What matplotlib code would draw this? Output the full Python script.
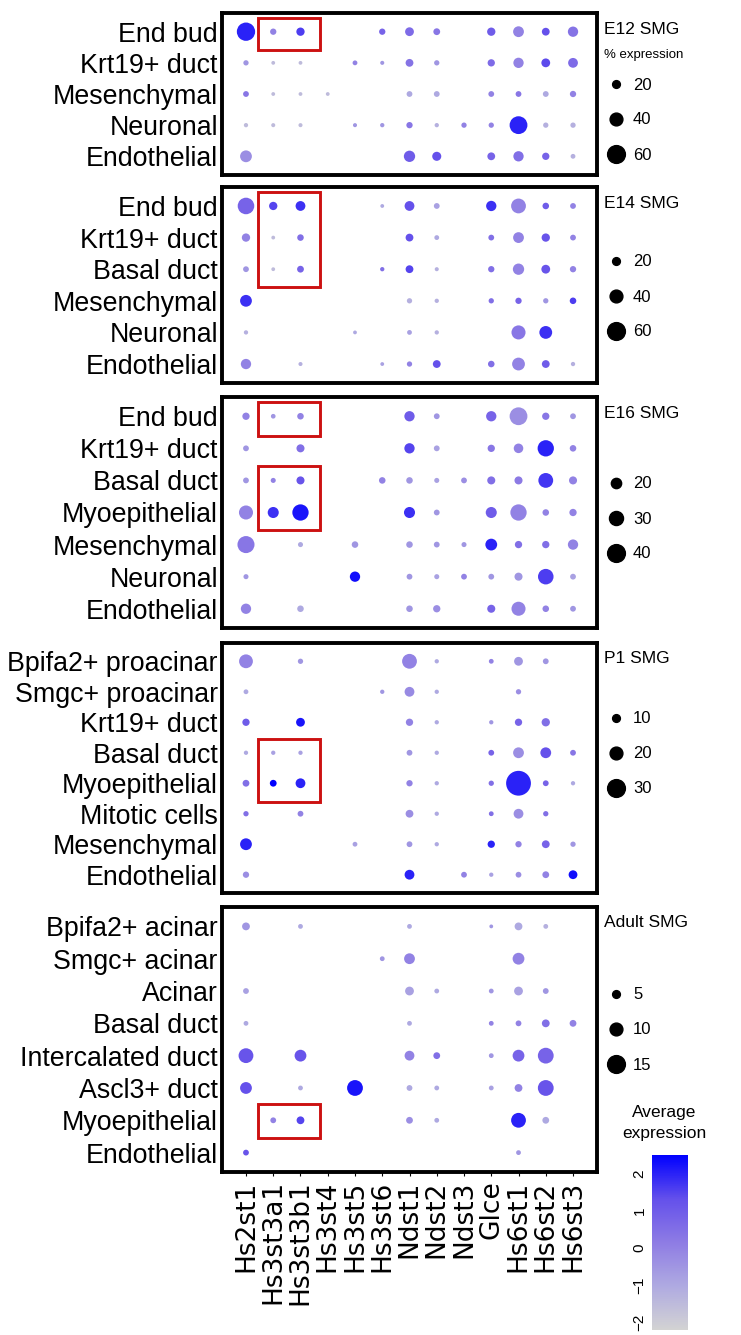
import matplotlib.pyplot as plt
import numpy as np
from matplotlib.colors import LinearSegmentedColormap, Normalize
from matplotlib.cm import ScalarMappable
from matplotlib.lines import Line2D
from matplotlib.patches import Rectangle

plt.rcParams['font.family'] = ['Liberation Sans', 'DejaVu Sans']

genes = ['Hs2st1', 'Hs3st3a1', 'Hs3st3b1', 'Hs3st4', 'Hs3st5', 'Hs3st6',
         'Ndst1', 'Ndst2', 'Ndst3', 'Glce', 'Hs6st1', 'Hs6st2', 'Hs6st3']

# E12 SMG
e12_cells = ['End bud', 'Krt19+ duct', 'Mesenchymal', 'Neuronal', 'Endothelial']
e12_pct = [
    [62, 14, 22, 0, 0, 14, 24, 16, 0, 22, 32, 20, 30],
    [10, 4, 4, 0, 8, 5, 20, 10, 0, 18, 30, 24, 28],
    [12, 4, 4, 4, 0, 0, 12, 12, 0, 12, 12, 12, 14],
    [6, 5, 5, 0, 5, 6, 14, 6, 10, 10, 60, 10, 10],
    [36, 0, 0, 0, 0, 0, 34, 25, 0, 20, 30, 18, 8],
]
e12_avg = [
    [2.0, 0.0, 1.6, 0, 0, 0.8, 0.6, 0.3, 0, 1.0, 0.0, 1.3, 0.4],
    [-0.5, -1.5, -1.5, 0, 0.0, -0.5, 0.4, -0.5, 0, 0.6, 0.0, 1.4, 0.6],
    [0.3, -1.5, -1.5, -1.5, 0, 0, -1.0, -1.0, 0, 0.0, 0.3, -1.0, 0.0],
    [-1.5, -1.5, -1.5, 0, -0.5, -0.5, 0.3, -1.2, 0.0, 0.0, 2.0, -1.2, -1.2],
    [-0.3, 0, 0, 0, 0, 0, 1.0, 1.3, 0, 0.8, 0.5, 0.8, -1.2],
]

# E14 SMG
e14_cells = ['End bud', 'Krt19+ duct', 'Basal duct', 'Mesenchymal', 'Neuronal', 'Endothelial']
e14_pct = [
    [55, 22, 28, 0, 0, 4, 28, 12, 0, 30, 48, 15, 12],
    [22, 4, 15, 0, 0, 0, 20, 8, 0, 12, 32, 22, 12],
    [12, 4, 16, 0, 0, 6, 20, 5, 0, 14, 34, 24, 14],
    [36, 0, 0, 0, 0, 0, 10, 6, 0, 10, 14, 10, 15],
    [6, 0, 0, 0, 4, 0, 8, 6, 0, 0, 45, 40, 0],
    [30, 0, 5, 0, 0, 4, 10, 20, 0, 15, 40, 20, 6],
]
e14_avg = [
    [0.8, 1.5, 1.8, 0, 0, -1.0, 1.3, -0.8, 0, 1.8, 0.0, 1.0, 0.0],
    [0.0, -1.5, 0.5, 0, 0, 0, 1.3, -1.0, 0, 0.5, 0.0, 1.2, 0.0],
    [-0.5, -1.5, 0.8, 0, 0, 0.5, 1.5, -1.2, 0, 0.5, 0.0, 1.2, 0.0],
    [1.8, 0, 0, 0, 0, 0, -1.2, -1.2, 0, 0.5, 0.8, -0.5, 1.6],
    [-1.2, 0, 0, 0, -1.0, 0, -0.8, -1.2, 0, 0, 0.3, 1.8, 0],
    [0.0, 0, -1.2, 0, 0, -0.8, 0.0, 1.3, 0, 0.5, 0.0, 1.0, -1.2],
]

# E16 SMG
e16_cells = ['End bud', 'Krt19+ duct', 'Basal duct', 'Myoepithelial', 'Mesenchymal',
             'Neuronal', 'Endothelial']
e16_pct = [
    [12, 5, 10, 0, 0, 0, 20, 8, 0, 20, 40, 12, 8],
    [8, 0, 14, 0, 0, 0, 20, 8, 0, 12, 18, 36, 10],
    [8, 6, 14, 0, 0, 10, 10, 6, 8, 14, 14, 32, 14],
    [30, 22, 36, 0, 0, 0, 22, 8, 0, 22, 36, 10, 12],
    [38, 0, 6, 0, 10, 0, 10, 8, 6, 24, 12, 12, 20],
    [6, 0, 0, 0, 20, 0, 8, 6, 8, 8, 14, 34, 8],
    [20, 0, 10, 0, 0, 0, 10, 12, 0, 14, 30, 10, 8],
]
e16_avg = [
    [0.0, -0.5, 0.0, 0, 0, 0, 1.0, -0.5, 0, 0.8, -0.3, 0.3, -0.5],
    [-0.5, 0, 0.5, 0, 0, 0, 1.5, -0.8, 0, 0.3, 0.0, 2.0, 0.0],
    [-0.5, 0.0, 1.2, 0, 0, 0.0, -0.5, -0.8, -0.3, 0.5, 0.2, 1.7, 0.0],
    [0.0, 1.8, 2.2, 0, 0, 0, 1.8, -0.5, 0, 1.0, 0.0, 0.0, 0.0],
    [0.3, 0, -1.0, 0, -0.5, 0, -0.5, -0.5, -0.5, 2.0, 0.5, 0.5, 0.0],
    [-0.5, 0, 0, 0, 2.3, 0, -0.5, -0.8, 0.0, -0.5, -0.5, 1.6, -0.8],
    [0.0, 0, -1.0, 0, 0, 0, -0.5, -0.3, 0, 0.8, 0.0, 0.0, -0.5],
]

# P1 SMG
p1_cells = ['Bpifa2+ proacinar', 'Smgc+ proacinar', 'Krt19+ duct', 'Basal duct',
            'Myoepithelial', 'Mitotic cells', 'Mesenchymal', 'Endothelial']
p1_pct = [
    [22, 0, 5, 0, 0, 0, 24, 3, 0, 4, 12, 6, 0],
    [4, 0, 0, 0, 0, 3, 14, 3, 0, 0, 5, 0, 0],
    [9, 0, 12, 0, 0, 0, 9, 3, 0, 3, 9, 11, 0],
    [3, 3, 3, 0, 0, 0, 6, 3, 0, 6, 16, 16, 6],
    [8, 8, 14, 0, 0, 0, 7, 3, 0, 5, 44, 6, 3],
    [5, 0, 6, 0, 0, 0, 10, 3, 0, 4, 14, 5, 0],
    [18, 0, 0, 0, 4, 0, 6, 3, 0, 9, 7, 10, 5],
    [7, 0, 0, 0, 0, 0, 14, 0, 6, 3, 6, 8, 12],
]
p1_avg = [
    [0.0, 0, -0.5, 0, 0, 0, 0.0, -1.0, 0, 0.0, -0.5, -0.5, 0],
    [-1.0, 0, 0, 0, 0, -0.5, -0.2, -1.0, 0, 0, -0.3, 0, 0],
    [1.0, 0, 2.2, 0, 0, 0, 0.0, -1.0, 0, -0.5, 0.8, 0.5, 0],
    [-1.0, -0.8, -0.8, 0, 0, 0, -0.5, -1.0, 0, 0.8, -0.3, 1.3, 0.3],
    [0.5, 2.5, 2.0, 0, 0, 0, 0.0, -1.0, 0, 0.5, 2.0, 0.8, -1.0],
    [0.5, 0, 0.0, 0, 0, 0, -0.3, -1.0, 0, 0.5, -0.3, 0.5, 0],
    [2.0, 0, 0, 0, -0.8, 0, -0.5, -1.0, 0, 2.0, 0.0, 0.8, -0.5],
    [-0.3, 0, 0, 0, 0, 0, 2.0, 0, 0.0, -0.8, -0.3, 0.0, 2.3],
]

# Adult SMG
adult_cells = ['Bpifa2+ acinar', 'Smgc+ acinar', 'Acinar', 'Basal duct',
               'Intercalated duct', 'Ascl3+ duct', 'Myoepithelial', 'Endothelial']
adult_pct = [
    [5, 0, 2, 0, 0, 0, 2, 0, 0, 1, 5, 2, 0],
    [0, 0, 0, 0, 0, 2, 8, 0, 0, 0, 9, 0, 0],
    [3, 0, 0, 0, 0, 0, 6, 2, 0, 2, 6, 3, 0],
    [2, 0, 0, 0, 0, 0, 2, 0, 0, 2, 3, 5, 4],
    [12, 0, 9, 0, 0, 0, 7, 4, 0, 2, 9, 13, 0],
    [9, 0, 2, 0, 13, 0, 3, 2, 0, 2, 5, 13, 0],
    [0, 3, 5, 0, 0, 0, 4, 2, 0, 0, 12, 4, 0],
    [3, 0, 0, 0, 0, 0, 0, 0, 0, 0, 2, 0, 0],
]
adult_avg = [
    [-0.5, 0, -1.0, 0, 0, 0, -1.0, 0, 0, -0.5, -1.0, -1.2, 0],
    [0, 0, 0, 0, 0, -0.5, 0.0, 0, 0, 0, 0.0, 0, 0],
    [-0.8, 0, 0, 0, 0, 0, -0.8, -1.0, 0, -0.5, -0.8, -0.5, 0],
    [-1.0, 0, 0, 0, 0, 0, -1.0, 0, 0, 0.0, 0.0, 0.5, 0.0],
    [1.2, 0, 1.2, 0, 0, 0, 0.0, 0.5, 0, -0.5, 0.8, 0.8, 0],
    [1.3, 0, -1.0, 0, 2.2, 0, -1.0, -1.0, 0, -0.8, 0.0, 1.2, 0],
    [0, 0.0, 1.5, 0, 0, 0, -0.3, -1.0, 0, 0, 2.0, -1.0, 0],
    [1.2, 0, 0, 0, 0, 0, 0, 0, 0, 0, -0.5, 0, 0],
]

titles = ['E12 SMG', 'E14 SMG', 'E16 SMG', 'P1 SMG', 'Adult SMG']
legend_vals = [[20, 40, 60], [20, 40, 60], [20, 30, 40], [10, 20, 30], [5, 10, 15]]
# highlighted rows (top, bottom) in row units, around Hs3st3a1 / Hs3st3b1
red_boxes = [[(-0.45, 0.6)], [(-0.45, 2.55)], [(-0.45, 0.6), (1.55, 3.55)],
             [(2.55, 4.6)], [(5.5, 6.55)]]

cells_all = [e12_cells, e14_cells, e16_cells, p1_cells, adult_cells]
pct_all = [e12_pct, e14_pct, e16_pct, p1_pct, adult_pct]
avg_all = [e12_avg, e14_avg, e16_avg, p1_avg, adult_avg]

cmap = LinearSegmentedColormap.from_list(
    'grey_blue', ['#D3D3D3', '#AFAAE1', '#8E7CE4', '#6450EB', '#0000FF'])
norm = Normalize(vmin=-2.2, vmax=2.5)

W, H = 741, 1335
fig = plt.figure(figsize=(W / 100, H / 100), dpi=100)

x_left, x_right = 222, 597
tops = [13, 187, 397, 643, 907]
bots = [175, 383, 628, 893, 1172]
leg_mid = [120, 297, 519, 754, 1030]


def diam_pt(p, vmax):
    p = np.asarray(p, float)
    return (2.8 + 15.0 * p / vmax) * 0.72


for k in range(5):
    cells, pct, avg = cells_all[k], np.array(pct_all[k], float), np.array(avg_all[k], float)
    top, bot = tops[k], bots[k]
    ax = fig.add_axes([x_left / W, 1 - bot / H, (x_right - x_left) / W, (bot - top) / H])
    n = len(cells)
    yy, xx = np.meshgrid(np.arange(n), np.arange(len(genes)), indexing='ij')
    m = pct > 0
    d = diam_pt(pct, legend_vals[k][-1])
    ax.scatter(xx[m], yy[m], s=d[m] ** 2, c=avg[m], cmap=cmap, norm=norm,
               linewidths=0, zorder=3)
    ax.set_xlim(-0.88, len(genes) - 1 + 0.88)
    ax.set_ylim(n - 1 + 0.6, -0.6)
    ax.set_yticks(range(n))
    ax.set_yticklabels(cells, fontsize=19.3)
    ax.tick_params(axis='y', length=0, pad=3)
    ax.set_xticks(range(len(genes)))
    if k == 4:
        ax.set_xticklabels(genes, rotation=90, fontsize=19, family='DejaVu Sans')
        ax.tick_params(axis='x', length=3, pad=3)
    else:
        ax.set_xticklabels([])
        ax.tick_params(axis='x', length=0)
    for s in ax.spines.values():
        s.set_linewidth(2.8)

    for r0, r1 in red_boxes[k]:
        ax.add_patch(Rectangle((0.45, r0), 2.27, r1 - r0, fill=False,
                               edgecolor='#cc1111', linewidth=2.1, zorder=4,
                               clip_on=False))

    hpx = bot - top
    ax.text(1.02, 1 - 16 / hpx, titles[k], transform=ax.transAxes,
            fontsize=12.5, va='center', ha='left')
    handles = [Line2D([], [], ls='', marker='o', color='black',
                      markersize=float(diam_pt(v, legend_vals[k][-1])))
               for v in legend_vals[k]]
    ax.legend(handles, [str(v) for v in legend_vals[k]], loc='center left',
              bbox_to_anchor=(1.025, 1 - (leg_mid[k] - top) / hpx),
              frameon=False, prop={'size': 12}, handletextpad=0.4,
              labelspacing=1.2, borderaxespad=0, borderpad=0,
              handlelength=1.2)
    if k == 0:
        ax.text(1.02, 1 - 42 / hpx, '% expression', transform=ax.transAxes,
                fontsize=9.5, va='center', ha='left')

cax = fig.add_axes([652 / W, 1 - 1330 / H, 36 / W, 175 / H])
cb = fig.colorbar(ScalarMappable(norm=norm, cmap=cmap), cax=cax)
cb.outline.set_visible(False)
cb.set_ticks([-2, -1, 0, 1, 2])
cax.yaxis.set_ticks_position('left')
cax.tick_params(length=0, labelsize=11, pad=4)
for t in cax.get_yticklabels():
    t.set_rotation(90)
    t.set_va('center')
fig.text(664 / W, 1 - 1123 / H, 'Average\nexpression', ha='center', va='center',
         fontsize=12.5, linespacing=1.5)

fig.savefig('out.png', dpi=100)
